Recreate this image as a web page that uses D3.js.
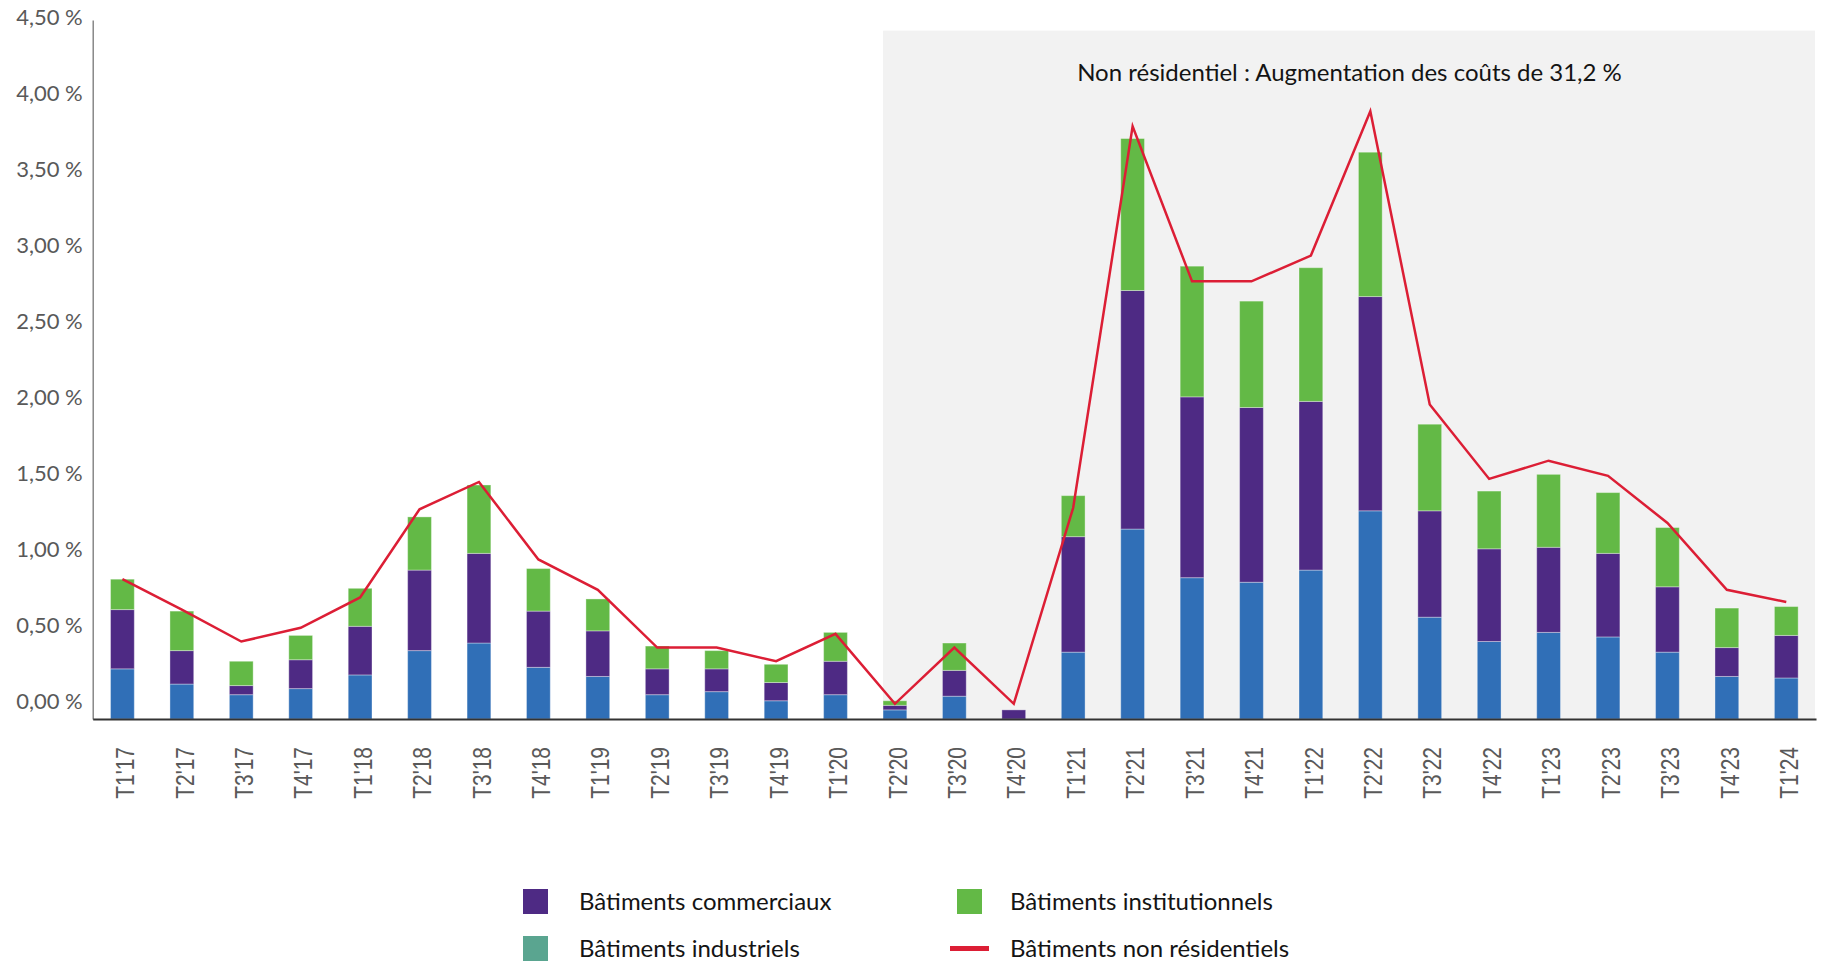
<!DOCTYPE html>
<html lang="fr">
<head>
<meta charset="utf-8">
<title>Bâtiments non résidentiels – variation trimestrielle des coûts</title>
<script src="https://cdn.jsdelivr.net/npm/d3@7"></script>
<style>
  html, body { margin: 0; padding: 0; background: #ffffff; }
  svg { display: block; }
</style>
</head>
<body>
<svg id="chart" width="1822" height="964"></svg>
<script>
// Trimestres
const quarters = ["T1'17","T2'17","T3'17","T4'17","T1'18","T2'18","T3'18","T4'18",
  "T1'19","T2'19","T3'19","T4'19","T1'20","T2'20","T3'20","T4'20",
  "T1'21","T2'21","T3'21","T4'21","T1'22","T2'22","T3'22","T4'22",
  "T1'23","T2'23","T3'23","T4'23","T1'24"];

// Contributions (points de %) empilées : industriels, commerciaux, institutionnels
const industriels = [0.23,0.13,0.06,0.10,0.19,0.35,0.40,0.24,
  0.18,0.06,0.08,0.02,0.06,-0.04,0.05,-0.10,
  0.34,1.15,0.83,0.80,0.88,1.27,0.57,0.41,
  0.47,0.44,0.34,0.18,0.17];
const commerciaux = [0.39,0.22,0.06,0.19,0.32,0.53,0.59,0.37,
  0.30,0.17,0.15,0.12,0.22,0.03,0.17,0.06,
  0.76,1.57,1.19,1.15,1.11,1.41,0.70,0.61,
  0.56,0.55,0.43,0.19,0.28];
const institutionnels = [0.20,0.26,0.16,0.16,0.25,0.35,0.45,0.28,
  0.21,0.15,0.12,0.12,0.19,0.03,0.18,0.00,
  0.27,1.00,0.86,0.70,0.88,0.95,0.57,0.38,
  0.48,0.40,0.39,0.26,0.19];

// Variation totale des bâtiments non résidentiels (%)
const nonResidentiels = [0.82,0.62,0.41,0.50,0.70,1.28,1.46,0.95,
  0.75,0.37,0.37,0.28,0.46,0.00,0.37,0.00,
  1.29,3.80,2.78,2.78,2.95,3.90,1.97,1.48,
  1.60,1.50,1.19,0.75,0.67];

// Graduations de l'axe des valeurs
const yTicks = [0,0.5,1,1.5,2,2.5,3,3.5,4,4.5];
const yMin = -0.1, yMax = 4.5;

const series = [
  { name: "Bâtiments industriels", values: industriels, color: "#306fb7", legend: "#5aa590" },
  { name: "Bâtiments commerciaux", values: commerciaux, color: "#4e2a84", legend: "#4e2a84" },
  { name: "Bâtiments institutionnels", values: institutionnels, color: "#63b946", legend: "#63b946" }
];

const titleText = "Non résidentiel : Augmentation des coûts de 31,2 %";
const shadeFrom = "T2'20";

const svg = d3.select("#chart");

const plot = { left: 92.7, right: 1816, top: 20, bottom: 719 };

const x = d3.scaleBand()
  .domain(quarters)
  .range([plot.left, plot.right])
  .paddingInner(0.6)
  .paddingOuter(0.3);

const y = d3.scaleLinear()
  .domain([yMin, yMax])
  .range([plot.bottom, plot.top]);

const fr = d3.formatLocale({ decimal: ",", thousands: " ", grouping: [3], currency: ["", " €"] });
const fmt = v => fr.format(".2f")(v) + " %";

// Zone grisée : période depuis T2'20
const shadeX0 = x(shadeFrom);
svg.append("rect")
  .attr("x", shadeX0)
  .attr("y", y(4.43))
  .attr("width", plot.right - 1 - shadeX0)
  .attr("height", y(yMin) - y(4.43))
  .attr("fill", "#f2f2f2");

svg.append("text")
  .attr("x", (shadeX0 + plot.right) / 2)
  .attr("y", 81)
  .attr("text-anchor", "middle")
  .attr("font-family", "Lato, 'Open Sans', sans-serif")
  .attr("font-size", 24)
  .attr("fill", "#141414")
  .text(titleText);

// Barres empilées à partir du bas de l'axe
const stacked = quarters.map((q, i) => {
  let base = yMin;
  let acc = 0;
  return series.map(s => {
    acc += s.values[i];
    const top = acc;
    const seg = { q, y0: base, y1: Math.max(top, base), color: s.color };
    base = Math.max(top, base);
    return seg;
  });
});

const barG = svg.append("g");
stacked.forEach(segs => {
  barG.selectAll(null)
    .data(segs.filter(d => d.y1 > d.y0))
    .join("rect")
    .attr("x", d => x(d.q))
    .attr("width", x.bandwidth())
    .attr("y", d => y(d.y1))
    .attr("height", d => y(d.y0) - y(d.y1))
    .attr("fill", d => d.color)
    .attr("stroke", "rgba(255,255,255,0.35)")
    .attr("stroke-width", 1);
});

// Courbe du total non résidentiel
const line = d3.line()
  .x((d, i) => x(quarters[i]) + x.bandwidth() / 2)
  .y(d => y(d));

svg.append("path")
  .datum(nonResidentiels)
  .attr("d", line)
  .attr("fill", "none")
  .attr("stroke", "#dc1e35")
  .attr("stroke-width", 2.5)
  .attr("stroke-linejoin", "miter");

// Axe des valeurs
const yAxis = d3.axisLeft(y).tickValues(yTicks).tickFormat(fmt).tickSize(0).tickPadding(10);
const yg = svg.append("g").attr("transform", `translate(${plot.left},0)`).call(yAxis);
yg.select(".domain").attr("stroke", "#767676").attr("stroke-width", 1.3);
yg.selectAll("text")
  .attr("font-family", "Lato, 'Open Sans', sans-serif")
  .attr("font-size", 22)
  .attr("fill", "#595959")
  .attr("dy", "0.2em");

// Axe des trimestres
const xAxis = d3.axisBottom(x).tickSize(0).tickPadding(0);
const xg = svg.append("g").attr("transform", `translate(0,${plot.bottom})`).call(xAxis);
xg.select(".domain").attr("stroke", "#333333").attr("stroke-width", 2);
xg.selectAll("text")
  .attr("font-family", "'Liberation Sans', Arial, sans-serif")
  .attr("font-size", 21)
  .attr("fill", "#595959")
  .attr("text-anchor", "end")
  .attr("dominant-baseline", "central")
  .attr("transform", "translate(3,28) rotate(-90) scale(1,1.2)")
  .attr("x", 0)
  .attr("y", 0)
  .attr("dy", null);

// Légende
const legendItems = [
  { label: "Bâtiments commerciaux", color: series[1].legend, type: "rect", sx: 523, tx: 579, row: 0 },
  { label: "Bâtiments institutionnels", color: series[2].legend, type: "rect", sx: 957, tx: 1010, row: 0 },
  { label: "Bâtiments industriels", color: series[0].legend, type: "rect", sx: 523, tx: 579, row: 1 },
  { label: "Bâtiments non résidentiels", color: "#dc1e35", type: "line", sx: 950, tx: 1010, row: 1 }
];
const rowY = [889, 936];
const lg = svg.append("g");
legendItems.forEach(it => {
  const top = rowY[it.row];
  if (it.type === "rect") {
    lg.append("rect").attr("x", it.sx).attr("y", top).attr("width", 25).attr("height", 25).attr("fill", it.color);
  } else {
    lg.append("rect").attr("x", it.sx).attr("y", top + 10).attr("width", 39).attr("height", 5).attr("fill", it.color);
  }
  lg.append("text")
    .attr("x", it.tx)
    .attr("y", top + 21)
    .attr("font-family", "Lato, 'Open Sans', sans-serif")
    .attr("font-size", 24)
    .attr("fill", "#141414")
    .text(it.label);
});
</script>
</body>
</html>
